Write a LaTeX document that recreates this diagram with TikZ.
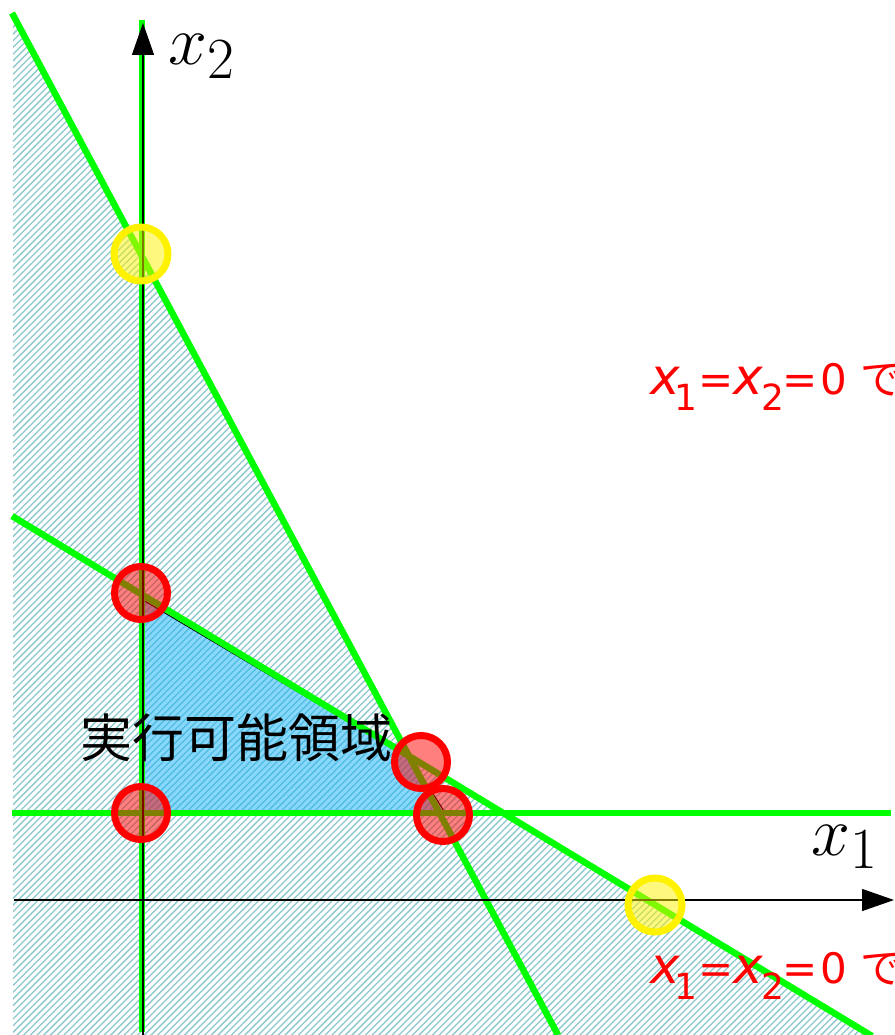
\documentclass[tikz,border=0pt]{standalone}
\usepackage{fontspec}
\newfontfamily\cjk{Noto Sans CJK JP}
\newfontfamily\djv{DejaVu Sans}[ItalicFont={DejaVu Sans Oblique}]
\usetikzlibrary{arrows.meta}
\definecolor{lgreen}{RGB}{0,255,0}
\definecolor{hatchc}{RGB}{140,200,204}
\definecolor{feas}{RGB}{20,178,248}
\newcommand\condtext{{\fontsize{50}{50}\selectfont\itshape x}\kern-5pt\raisebox{-16pt}{\fontsize{36}{36}\selectfont 1}\kern1pt={\fontsize{50}{50}\selectfont\itshape x}\kern-2pt\raisebox{-16pt}{\fontsize{36}{36}\selectfont 2}\kern-1.5pt=\kern2pt0 {\cjk で}}
\tikzset{
  constraint/.style={draw=lgreen, line width=6.5pt},
  axisline/.style={draw=black, line width=1.3pt, -{Triangle[length=32pt,width=22pt]}},
  hatchline/.style={draw=hatchc, line width=1.3pt},
  vertexmark/.style={circle, draw=red, line width=7pt, fill=red, fill opacity=0.5, draw opacity=1, minimum size=53pt, inner sep=0pt},
  interceptmark/.style={circle, draw=yellow, line width=7pt, fill=yellow, fill opacity=0.5, draw opacity=1, minimum size=54pt, inner sep=0pt},
  condlbl/.style={anchor=base west, inner sep=0pt, text=red, font=\djv\fontsize{42}{42}\selectfont},
  axlbl/.style={anchor=base west, inner sep=0pt, scale=2.81, font=\Huge},
}
\begin{document}
\begin{tikzpicture}[x=1pt,y=-1pt]
\useasboundingbox (0,0) rectangle (894,1035);
\clip (0,0) rectangle (894,1035);
% key points
\coordinate (s1) at (12,13);
\coordinate (s2) at (558,1035);
\coordinate (h1) at (12,516);
\coordinate (h2) at (872,1036);
\coordinate (hx) at (409,756.2);
\coordinate (g1) at (12,813);
\coordinate (g2) at (891,813);
\coordinate (g3) at (142,20);
\coordinate (g4) at (142,1032);
% hatched region
\begin{scope}
  \clip (13,15) -- (hx) -- (872,1036) -- (13,1036) -- cycle;
  \foreach \k in {0,...,310}
    \draw[hatchline] ({-1100+6.7*\k},1060) -- ++(1120,-1120);
\end{scope}
% feasible region
\coordinate (f1) at (143,600);
\coordinate (f2) at (142,811);
\coordinate (f3) at (444,811);
\coordinate (f4) at (413,762);
\coordinate (f5) at (401,753);
\filldraw[fill=feas, fill opacity=0.5, draw=black, line width=1pt] (f1) -- (f2) -- (f3) -- (f4) -- (f5) -- cycle;
% constraint lines
\draw[constraint] (s1) -- (s2);
\draw[constraint] (h1) -- (h2);
\draw[constraint] (g1) -- (g2);
\draw[constraint] (g3) -- (g4);
% axes
\coordinate (a1s) at (14,900);
\coordinate (a1e) at (894,900);
\coordinate (a2s) at (143,1040);
\coordinate (a2e) at (143,23);
\draw[axisline] (a1s) -- (a1e);
\draw[axisline] (a2s) -- (a2e);
\node[axlbl] (lx2) at (168,65) {$x_2$};
\node[axlbl] (lx1) at (811,855) {$x_1$};
% labels
\node[anchor=base west, inner sep=0pt, font=\cjk\fontsize{52}{52}\selectfont] (feaslbl) at (80,757) {実行可能領域};
\node[condlbl] (c1) at (650,394) {\condtext};
\node[condlbl] (c2) at (650,983) {\condtext};
% marks
\node[interceptmark] (y1) at (141,254) {};
\node[interceptmark] (y2) at (655,905) {};
\node[vertexmark] (v1) at (141,593) {};
\node[vertexmark] (v2) at (141,813) {};
\node[vertexmark] (v3) at (421,762) {};
\node[vertexmark] (v4) at (443,815) {};
\end{tikzpicture}
\end{document}
